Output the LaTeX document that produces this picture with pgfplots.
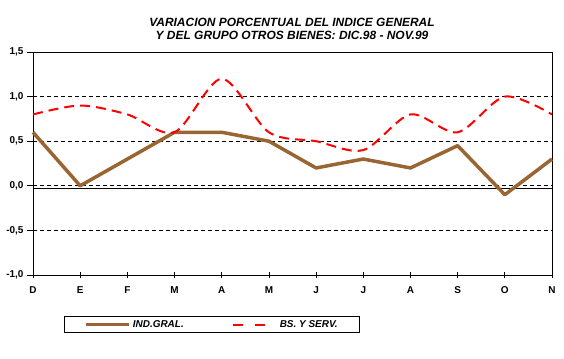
\documentclass[border=0pt]{standalone}
\usepackage{pgfplots}
\pgfplotsset{compat=1.18}
\usepackage{fontspec}
\setmainfont{Liberation Sans}
\definecolor{brownline}{RGB}{153,102,51}
\begin{document}
\begin{tikzpicture}[x=1bp,y=1bp]
\useasboundingbox (0,0) rectangle (564,358);
\node[font=\fontsize{12}{13}\selectfont\bfseries\itshape, align=center] at (292,329.5) {VARIACION PORCENTUAL DEL INDICE GENERAL\\Y DEL GRUPO OTROS BIENES: DIC.98 - NOV.99};
\begin{axis}[
  at={(33bp,83bp)}, anchor=south west,
  scale only axis, width=519bp, height=223bp,
  xmin=0, xmax=11, ymin=-1, ymax=1.5,
  xtick={0,...,11}, xticklabels={D,E,F,M,A,M,J,J,A,S,O,N},
  ytick={-1,-0.5,0,0.5,1,1.5},
  xtick pos=bottom, ytick pos=left,
  x tick style={black, line width=0.8pt}, y tick style={black, line width=0.8pt},
  xtick align=center, ytick align=outside,
  major tick length=6bp,
  axis line style={black, line width=0.8pt},
  ticklabel style={font=\fontsize{10}{12}\selectfont\bfseries},
  /pgf/number format/assume math mode=true,
  yticklabel style={/pgf/number format/.cd, use comma, fixed, fixed zerofill, precision=1},
  xticklabel style={yshift=-5bp},
  clip=false,
  legend style={at={(0.0597,-0.184)}, anchor=north west, draw=black, line width=0.8pt,
    font=\fontsize{10}{12}\selectfont\bfseries\itshape, inner xsep=20bp, inner ysep=2bp,
    /tikz/column 2/.style={column sep=46bp},
    /tikz/column 3/.style={column sep=12bp},
    /tikz/column 4/.style={column sep=0bp},
    /tikz/every even column/.append style={}},
  legend columns=2,
  legend cell align=left,
]
\draw[black, line width=0.7pt, dash pattern=on 4bp off 3bp] (axis cs:0,1) -- (axis cs:11,1);
\draw[black, line width=0.7pt, dash pattern=on 4bp off 3bp] (axis cs:0,0.5) -- (axis cs:11,0.5);
\draw[black, line width=0.7pt, dash pattern=on 4bp off 3bp] (axis cs:0,0) -- (axis cs:11,0);
\draw[black, line width=0.7pt, dash pattern=on 4bp off 3bp] (axis cs:0,-0.5) -- (axis cs:11,-0.5);
\draw[black, line width=0.8pt] (axis cs:0,-0.03) -- (axis cs:11,-0.03);
\addplot[brownline, line width=3.5bp, line join=round,
  legend image code/.code={\draw[brownline, line width=3.5bp] (0bp,0bp) -- (43bp,0bp);}]
  coordinates {(0,0.6) (1,0.0) (2,0.3) (3,0.6) (4,0.6) (5,0.5) (6,0.2) (7,0.3) (8,0.2) (9,0.45) (10,-0.1) (11,0.3)};
\addlegendentry{IND.GRAL.}
\addplot[red, line width=2bp, smooth, tension=0.5, dash pattern=on 10bp off 6bp,
  legend image code/.code={\draw[red, line width=2bp, dash pattern=on 10bp off 12bp] (0bp,0bp) -- (32bp,0bp);}]
  coordinates {(0,0.8) (1,0.9) (2,0.8) (3,0.6) (4,1.2) (5,0.6) (6,0.5) (7,0.4) (8,0.8) (9,0.6) (10,1.0) (11,0.8)};
\addlegendentry{BS. Y SERV.}
\end{axis}
\end{tikzpicture}
\end{document}
